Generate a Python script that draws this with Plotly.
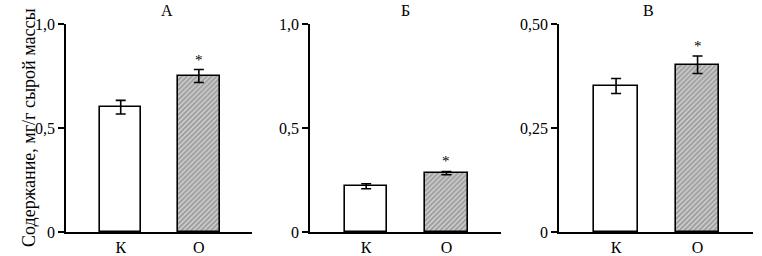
import plotly.graph_objects as go

categories = ["К", "О"]
panel_titles = ["А", "Б", "В"]
values_A = [0.60, 0.75]
errors_A = [0.033, 0.031]
values_B = [0.22, 0.283]
errors_B = [0.012, 0.008]
values_V = [0.351, 0.402]
errors_V = [0.018, 0.021]
y_max = [1.0, 1.0, 0.5]
y_tickvals = [[0, 0.5, 1.0], [0, 0.5, 1.0], [0, 0.25, 0.5]]
y_ticktext = [["0", "0,5", "1,0"], ["0", "0,5", "1,0"], ["0", "0,25", "0,50"]]
significant = [[False, True], [False, True], [False, True]]
y_title = "Содержание, мг/г сырой массы"

W, H = 762, 256
FONT = "Liberation Serif, Times New Roman, DejaVu Serif, serif"
domains = [(66, 252), (310, 501), (559, 753)]
series = [(values_A, errors_A), (values_B, errors_B), (values_V, errors_V)]

fig = go.Figure()
xpos = [0, 1]
for i, (vals, errs) in enumerate(series):
    xa = "x" if i == 0 else f"x{i+1}"
    ya = "y" if i == 0 else f"y{i+1}"
    fig.add_trace(go.Bar(
        x=xpos, y=vals, width=0.53,
        xaxis=xa, yaxis=ya,
        marker=dict(
            color=["white", "white"],
            line=dict(color="black", width=1.6),
            pattern=dict(shape=["", "/"], fgcolor="black", bgcolor="white",
                         size=3.5, solidity=0.8),
        ),
        error_y=dict(type="data", array=errs, color="black", thickness=1.6, width=5),
        showlegend=False,
    ))
    for j in range(2):
        if significant[i][j]:
            fig.add_annotation(x=xpos[j], y=vals[j] + errs[j], xref=xa, yref=ya,
                               text="*", showarrow=False, yanchor="bottom",
                               yshift=0, font=dict(family=FONT, size=15, color="black"))
    d0, d1 = domains[i]
    axk = "xaxis" if i == 0 else f"xaxis{i+1}"
    ayk = "yaxis" if i == 0 else f"yaxis{i+1}"
    fig.layout[axk] = dict(
        domain=[d0 / W, d1 / W], range=[-0.70, 1.68], anchor=ya,
        tickvals=xpos, ticktext=categories, ticks="", showline=True,
        linecolor="black", linewidth=1.6, showgrid=False, zeroline=False,
        tickfont=dict(family=FONT, size=16, color="black"), fixedrange=True,
    )
    fig.layout[ayk] = dict(
        domain=[0, 1], range=[0, y_max[i]], anchor=xa,
        tickvals=y_tickvals[i], ticktext=y_ticktext[i], ticks="outside",
        ticklen=6, tickwidth=1.6, tickcolor="black", showline=True,
        linecolor="black", linewidth=1.6, showgrid=False, zeroline=False,
        tickfont=dict(family=FONT, size=16, color="black"),
    )
    fig.add_shape(type="line", xref=f"{xa} domain", yref=ya, x0=1, x1=1,
                  ysizemode="pixel", yanchor=0, y0=0, y1=-6,
                  line=dict(color="black", width=1.6))
    fig.add_annotation(x=(d0 + d1) / 2 / W, y=1, xref="paper", yref="paper",
                       text=panel_titles[i], showarrow=False, yanchor="bottom",
                       yshift=3, font=dict(family=FONT, size=16, color="black"))

fig.add_annotation(x=17 / W, y=0.5, xref="paper", yref="paper", text=y_title,
                   textangle=-90, showarrow=False,
                   font=dict(family=FONT, size=18, color="black"))

fig.update_layout(width=W, height=H, margin=dict(l=0, r=0, t=24, b=19),
                  plot_bgcolor="white", paper_bgcolor="white", bargap=0)
fig.write_html("out.html", config={"displayModeBar": False},
               post_script="document.body.style.margin='0';document.body.style.padding='0';")
